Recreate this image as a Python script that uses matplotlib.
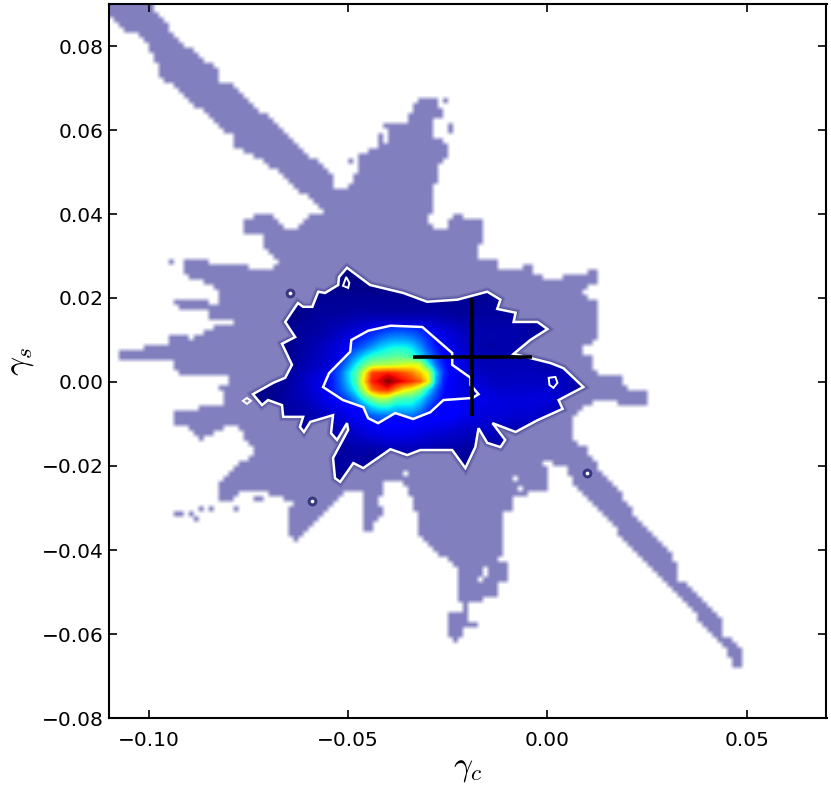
import matplotlib
matplotlib.use('Agg')
import matplotlib.pyplot as plt
import numpy as np
from matplotlib.colors import LinearSegmentedColormap
from matplotlib.patches import Polygon
from matplotlib.path import Path

envelope = [(-101, 92), (-92.7, 81.5), (-82.9, 74.4), (-82.9, 72.0), (-79.6, 71.3), (-53.8, 48.9), (-53.8, 45.8),
            (-50.3, 45.8), (-47.0, 51.3), (-47.0, 54.1), (-42.7, 56.0), (-41.2, 61.3), (-35.7, 61.8), (-33.9, 65.6),
            (-31.4, 68.0), (-28.6, 68.0), (-26.9, 65.6), (-25.1, 64.1), (-28.6, 62.5), (-28.9, 58.4), (-25.1, 57.0),
            (-25.1, 52.9), (-26.9, 52.2), (-26.9, 48.2), (-28.9, 47.4), (-28.9, 40.3), (-30.7, 38.6), (-28.1, 35.8),
            (-25.1, 35.8), (-25.1, 38.6), (-23.1, 40.5), (-21.4, 39.1), (-16.1, 39.1), (-16.1, 33.1), (-18.1, 31.5),
            (-18.1, 29.6), (-13.1, 29.1), (-12.3, 27.4), (-6.8, 27.2), (-6.3, 28.6), (-5.0, 28.4), (-3.5, 26.2),
            (0.3, 23.8), (3.8, 23.8), (4.0, 25.5), (10.3, 26.0), (11.6, 27.4), (12.8, 26.7), (12.8, 24.3), (9.0, 21.5),
            (9.0, 20.3), (12.8, 20.0), (12.8, 10.5), (9.0, 8.1), (9.0, 6.9), (10.8, 6.0), (10.8, 3.6), (13.3, 1.7),
            (18.3, 1.2), (20.4, -1.9), (25.4, -2.4), (25.4, -5.0), (18.3, -5.5), (16.6, -3.6), (15.3, -5.0),
            (13.8, -3.8), (8.3, -6.7), (5.8, -9.1), (5.8, -13.1), (9.5, -15.7), (10.8, -17.9), (17.6, -25.8),
            (21.6, -31.2), (32.7, -43.2), (32.7, -47.9), (35.9, -48.4), (43.5, -56.7), (43.5, -59.8), (49.0, -63.9),
            (49.0, -68.2), (47.2, -68.2), (45.2, -65.6), (45.2, -63.4), (38.4, -57.9), (37.9, -56.0), (30.2, -47.9),
            (18.3, -37.0), (17.6, -34.6), (5.8, -23.4), (5.0, -20.5), (1.5, -20.3), (1.3, -19.1), (-1.8, -19.3),
            (0.3, -21.5), (0.3, -25.8), (-5.0, -25.8), (-5.5, -27.4), (-8.5, -27.4), (-8.8, -30.5), (-11.1, -31.2),
            (-11.1, -41.2), (-12.6, -41.7), (-10.6, -43.2), (-10.6, -47.7), (-12.3, -47.9), (-12.6, -51.3),
            (-16.3, -51.5), (-17.3, -53.2), (-19.3, -51.5), (-19.8, -56.7), (-18.1, -57.2), (-18.1, -57.9),
            (-21.4, -58.7), (-21.9, -61.5), (-23.6, -61.5), (-25.1, -59.1), (-25.1, -55.1), (-21.1, -54.4),
            (-21.1, -52.7), (-23.1, -52.7), (-23.1, -43.6), (-25.1, -41.7), (-27.6, -41.2), (-30.7, -38.4),
            (-32.4, -35.3), (-33.2, -30.5), (-34.9, -25.8), (-38.7, -22.7), (-41.2, -24.1), (-42.0, -28.1),
            (-43.2, -28.6), (-41.5, -30.0), (-41.5, -32.4), (-43.2, -32.9), (-43.7, -36.0), (-46.5, -36.0),
            (-46.5, -25.8), (-50.0, -25.8), (-64.1, -39.3), (-65.1, -31.0), (-61.6, -26.2), (-64.1, -28.9),
            (-66.6, -28.9), (-67.1, -26.2), (-68.8, -27.4), (-70.1, -26.2), (-77.1, -26.2), (-77.6, -27.4),
            (-82.2, -28.9), (-82.9, -24.1), (-81.4, -22.7), (-77.1, -19.3), (-74.1, -17.9), (-73.9, -16.2),
            (-77.6, -10.7), (-80.4, -10.3), (-87.7, -13.8), (-90.2, -10.7), (-94.0, -9.8), (-94.0, -7.4), (-88.4, -7.2),
            (-87.9, -5.5), (-81.4, -5.5), (-81.4, -1.9), (-82.9, -1.2), (-79.6, 0.0), (-79.6, 1.2), (-93.0, 1.7),
            (-93.5, 4.8), (-101.5, 5.2), (-102.3, 6.4), (-103.5, 5.2), (-108.0, 5.2), (-108.0, 8.1), (-95.5, 8.3),
            (-95.2, 11.7), (-91.7, 11.7), (-90.2, 10.5), (-87.9, 10.7), (-82.9, 13.6), (-79.1, 13.6), (-79.1, 15.3),
            (-84.7, 15.3), (-85.2, 16.7), (-91.7, 17.2), (-93.5, 18.8), (-93.5, 20.0), (-82.9, 18.8), (-82.9, 21.2),
            (-85.2, 23.6), (-87.9, 24.3), (-91.7, 26.0), (-91.7, 28.6), (-84.7, 28.6), (-84.2, 27.9), (-72.1, 27.2),
            (-71.4, 25.5), (-70.4, 27.2), (-66.6, 27.9), (-70.4, 31.5), (-72.1, 35.5), (-75.9, 35.5), (-75.9, 38.1),
            (-72.9, 40.5), (-68.8, 39.3), (-65.3, 35.8), (-63.3, 35.8), (-60.3, 39.3), (-55.8, 40.3), (-57.8, 42.7),
            (-62.8, 45.8), (-67.8, 50.5), (-78.9, 56.5), (-79.1, 58.4), (-84.7, 63.2), (-89.7, 66.5), (-97.2, 73.2),
            (-99.0, 78.4), (-102.8, 82.7), (-105.5, 83.5), (-109.8, 87.0), (-112, 85), (-112, 92)]

env_islands_x = [-94.7, -94.0, -93.0, -92.3, -89.0, -88.5, -87.5, -86.3, -85.0, -83.8, -78.6, -77.8, -73.1, -72.3,
                 -23.9, -23.9, -26.1, -25.4, -49.7, -49.0]
env_islands_y = [28.1, 28.1, -31.7, -31.7, -31.0, -32.2, -30.0, -30.0, -30.0, -30.0, -30.0, -30.0, -28.1, -28.1,
                 61.3, 60.1, 67.5, 67.5, 52.0, 52.0]
env_holes_x = [-40.7, -40.7, -40.7, -35.2, -8.0, -6.3, -15.1, -16.1, -17.3]
env_holes_y = [59.5, 58.3, 57.1, -21.5, -22.9, -25.0, -44.3, -46.0, -47.2]

outer_contour = [(-50.3, 27.2), (-44.5, 23.1), (-36.2, 21.2), (-30.2, 19.1), (-22.6, 19.6), (-15.1, 21.5), (-11.8, 19.6),
                 (-12.6, 17.4), (-8.0, 16.5), (-8.5, 14.3), (-2.5, 14.3), (0, 12.6), (-4.3, 10.0), (-8.5, 6.7), (0.8, 4.5),
                 (4.0, 3.3), (9.0, -1.2), (2.8, -4.3), (3.8, -6.4), (-2.5, -9.1), (-8.0, -11.9), (-13.8, -9.8),
                 (-10.6, -13.8), (-11.8, -15.5), (-15.1, -14.5), (-17.3, -11.0), (-18.1, -15.5), (-20.6, -20.5),
                 (-23.9, -16.2), (-31.9, -16.2), (-35.2, -17.4), (-39.4, -16.0), (-46.2, -20.5), (-48.7, -19.3),
                 (-52.0, -23.8), (-53.3, -22.9), (-53.8, -18.1), (-50.0, -11.4), (-50.3, -9.8), (-52.8, -13.8),
                 (-54.3, -12.2), (-53.8, -7.9), (-59.5, -9.5), (-61.1, -11.9), (-62.1, -10.7), (-61.3, -8.3),
                 (-66.3, -8.3), (-66.6, -5.5), (-70.1, -4.3), (-71.6, -5.5), (-73.9, -2.9), (-68.8, -0.2), (-65.8, 1.0),
                 (-64.1, 4.1), (-66.6, 9.1), (-63.3, 10.7), (-65.8, 14.3), (-62.6, 18.8), (-61.3, 17.9), (-59.0, 17.9),
                 (-57.5, 21.5), (-55.8, 21.2), (-52.5, 23.1), (-52.3, 25.0)]

inner_contour = [(-56.3, -1.2), (-54.8, 2.1), (-49.5, 7.2), (-49.2, 10.0), (-45.0, 12.2), (-39.4, 13.4), (-31.4, 13.1),
                 (-23.9, 6.9), (-23.9, 4.1), (-19.3, 1.0), (-19.3, -0.7), (-17.3, -2.9), (-18.8, -3.8), (-26.1, -4.3),
                 (-29.4, -7.2), (-33.7, -8.8), (-38.2, -7.4), (-42.5, -9.8), (-45.0, -8.6), (-46.2, -6.0), (-51.3, -4.3)]

small_loops = [[(-50.5, 25.0), (-49.7, 23.6), (-50.0, 22.4), (-51.3, 22.9)],
               [(0.3, 1.0), (2.0, 1.2), (2.5, -0.2), (1.5, -1.4), (0.5, -0.7)],
               [(-76.4, -4.5), (-75.4, -3.8), (-74.4, -4.5), (-75.4, -5.2)]]

spots_x = [-64.6, -59.0, 10.0]
spots_y = [21.2, -28.4, -21.7]

# density on a 4e-3 grid, gamma_c -80..12, gamma_s 28..-28
density = np.array([
    [0, 0, 0, 0, 0, 0, 0, 0, 0, 0, 0, 0, 0, 0, 0, 0, 0, 0, 0, 0, 0, 0, 0, 0],
    [0, 0, 0, 0, 0, 1, 1, 1, 1, 1, 1, 1, 1, 1, 1, 1, 1, 1, 0, 0, 0, 0, 0, 0],
    [0, 0, 0, 0, 1, 2, 2, 2, 2, 2, 2, 2, 2, 2, 2, 2, 2, 2, 1, 1, 0, 0, 0, 0],
    [0, 0, 0, 0, 1, 2, 3, 3, 4, 4, 4, 4, 4, 4, 3, 3, 3, 3, 3, 3, 2, 0, 0, 0],
    [0, 0, 0, 0, 2, 3, 4, 6, 8, 10, 11, 11, 11, 9, 7, 5, 4, 4, 4, 3, 2, 0, 0, 0],
    [0, 0, 0, 0, 2, 4, 6, 9, 12, 12, 12, 12, 12, 12, 9, 6, 4, 4, 4, 3, 2, 1, 0, 0],
    [0, 0, 0, 1, 3, 5, 7, 10, 12, 12, 12, 12, 12, 12, 12, 7, 5, 5, 5, 5, 4, 4, 3, 0],
    [0, 0, 1, 2, 4, 7, 10, 12, 12, 12, 12, 12, 12, 12, 12, 9, 7, 6, 6, 6, 6, 6, 3, 0],
    [0, 1, 1, 2, 4, 6, 9, 12, 12, 12, 12, 12, 12, 12, 12, 10, 9, 8, 8, 8, 8, 5, 2, 0],
    [0, 0, 1, 2, 3, 4, 6, 8, 11, 12, 12, 12, 12, 12, 11, 9, 8, 8, 7, 7, 5, 3, 0, 0],
    [0, 0, 0, 1, 2, 3, 4, 5, 7, 9, 10, 10, 9, 8, 7, 6, 6, 5, 4, 3, 2, 0, 0, 0],
    [0, 0, 0, 0, 0, 2, 2, 3, 4, 4, 5, 5, 5, 4, 4, 3, 3, 3, 2, 2, 0, 0, 0, 0],
    [0, 0, 0, 0, 0, 0, 2, 3, 3, 2, 2, 2, 2, 2, 2, 2, 2, 1, 1, 0, 0, 0, 0, 0],
    [0, 0, 0, 0, 0, 0, 0, 0, 0, 0, 0, 0, 0, 0, 0, 0, 0, 0, 0, 0, 0, 0, 0, 0],
    [0, 0, 0, 0, 0, 0, 0, 0, 0, 0, 0, 0, 0, 0, 0, 0, 0, 0, 0, 0, 0, 0, 0, 0],
]) / 100.0

# finer density inside the inner contour, 2e-3 grid, gamma_c -58..-16, gamma_s 14..-10
density_core = np.array([
    [8, 8, 8, 9, 10, 10, 11, 12, 13, 13, 13, 13, 13, 13, 12, 11, 10, 9, 8, 8, 7, 7],
    [8, 8, 9, 10, 11, 12, 13, 15, 17, 19, 20, 20, 19, 17, 14, 12, 10, 9, 8, 8, 7, 7],
    [9, 9, 10, 11, 13, 15, 17, 20, 24, 27, 28, 28, 26, 22, 17, 13, 11, 9, 8, 8, 7, 7],
    [9, 10, 11, 13, 16, 19, 23, 28, 33, 36, 38, 38, 35, 28, 20, 15, 11, 9, 8, 8, 7, 7],
    [10, 11, 13, 16, 20, 27, 34, 40, 42, 44, 46, 45, 42, 34, 26, 18, 13, 10, 8, 8, 7, 7],
    [10, 12, 14, 18, 26, 36, 46, 54, 56, 56, 58, 60, 62, 60, 40, 23, 15, 11, 9, 8, 8, 7],
    [11, 13, 16, 22, 33, 44, 62, 84, 86, 88, 86, 82, 78, 70, 62, 32, 17, 11, 9, 8, 8, 8],
    [11, 13, 15, 22, 32, 44, 68, 88, 92, 100, 94, 90, 86, 80, 66, 30, 15, 11, 9, 8, 8, 8],
    [11, 12, 15, 20, 28, 38, 58, 78, 84, 86, 76, 66, 62, 52, 36, 22, 14, 10, 9, 8, 8, 8],
    [10, 11, 13, 16, 20, 28, 40, 50, 58, 56, 46, 44, 42, 36, 26, 18, 12, 10, 9, 8, 8, 8],
    [9, 10, 11, 13, 16, 20, 26, 34, 38, 38, 34, 34, 34, 28, 20, 14, 11, 9, 8, 8, 8, 8],
    [8, 9, 10, 11, 12, 14, 18, 22, 24, 24, 24, 24, 24, 20, 15, 12, 10, 9, 8, 8, 7, 7],
    [8, 8, 9, 10, 10, 12, 14, 15, 16, 16, 16, 17, 17, 14, 12, 10, 9, 8, 8, 7, 7, 7],
]) / 100.0

cross_h_x = [-33.7, -4.0]
cross_h_y = [6.0, 6.0]
cross_v_x = [-19.0, -19.0]
cross_v_y = [20.0, -8.0]

xticks = [-0.10, -0.05, 0.00, 0.05]
yticks = [-0.08, -0.06, -0.04, -0.02, 0.00, 0.02, 0.04, 0.06, 0.08]


def scaled(points):
    return np.array(points) * 1e-3


plt.rcParams['mathtext.fontset'] = 'cm'
W, H = 831, 788
fig = plt.figure(figsize=(W / 100, H / 100), dpi=100)
ax = fig.add_axes([109 / W, 1 - 718 / H, 717.5 / W, 714 / H])

# the pale region is a coarse binned mask, so it gets the blocky edge
dx, dy = 1.25, 1.2
nx, ny = 144, 142
cx = -110 + dx * (np.arange(nx) + 0.5)
cy = -80 + dy * (np.arange(ny) + 0.5)
gx, gy = np.meshgrid(cx, cy)
mask = Path(envelope).contains_points(np.c_[gx.ravel(), gy.ravel()]).reshape(gx.shape).astype(float)
for px, py in zip(env_islands_x, env_islands_y):
    mask[int((py + 80) / dy), int((px + 110) / dx)] = 1
for px, py in zip(env_holes_x, env_holes_y):
    mask[int((py + 80) / dy), int((px + 110) / dx)] = 0

env_cmap = LinearSegmentedColormap.from_list('env', ['white', '#817fbe'])
ax.imshow(mask, cmap=env_cmap, vmin=0, vmax=1, interpolation='bilinear', origin='lower', aspect='auto',
          extent=[-0.110, -0.110 + nx * dx * 1e-3, -0.080, -0.080 + ny * dy * 1e-3], zorder=1)

# soft dark edge round the core
core = Polygon(scaled(outer_contour), closed=True, fc='none', ec='none', transform=ax.transData)
ax.add_patch(core)
ax.add_patch(Polygon(scaled(outer_contour), closed=True, fc='none', ec='#20207a', lw=6, alpha=0.18, zorder=2))
ax.add_patch(Polygon(scaled(outer_contour), closed=True, fc='none', ec='#20207a', lw=3.5, alpha=0.35, zorder=2))

im = ax.imshow(density, cmap='jet', vmin=0, vmax=1, interpolation='catrom',
               extent=[-0.082, 0.014, -0.030, 0.030], origin='upper', aspect='auto', zorder=3)
im.set_clip_path(core)

inner = Polygon(scaled(inner_contour), closed=True, fc='none', ec='none', transform=ax.transData)
ax.add_patch(inner)
im2 = ax.imshow(density_core, cmap='jet', vmin=0, vmax=1, interpolation='bilinear',
                extent=[-0.059, -0.015, -0.011, 0.015], origin='upper', aspect='auto', zorder=3.1)
im2.set_clip_path(inner)

ax.add_patch(Polygon(scaled(outer_contour), closed=True, fc='none', ec='white', lw=1.8, zorder=4))
ax.add_patch(Polygon(scaled(inner_contour), closed=True, fc='none', ec='white', lw=1.8, zorder=4))
for loop in small_loops:
    ax.add_patch(Polygon(scaled(loop), closed=True, fc='none', ec='white', lw=1.4, zorder=4))

ax.scatter(np.array(spots_x) * 1e-3, np.array(spots_y) * 1e-3, s=50, color='#20206e', alpha=0.75, linewidths=0, zorder=3)
ax.scatter(np.array(spots_x) * 1e-3, np.array(spots_y) * 1e-3, s=7, color='white', linewidths=0, zorder=4)

ax.plot(np.array(cross_h_x) * 1e-3, np.array(cross_h_y) * 1e-3, color='black', lw=2.6, solid_capstyle='butt', zorder=5)
ax.plot(np.array(cross_v_x) * 1e-3, np.array(cross_v_y) * 1e-3, color='black', lw=2.6, solid_capstyle='butt', zorder=5)

ax.set_xlim(-0.11, 0.07)
ax.set_ylim(-0.08, 0.09)
ax.set_xticks(xticks)
ax.set_yticks(yticks)
ax.set_xticklabels(['\u22120.10', '\u22120.05', '0.00', '0.05'])
ax.set_yticklabels(['\u22120.08', '\u22120.06', '\u22120.04', '\u22120.02', '0.00', '0.02', '0.04', '0.06', '0.08'])
ax.tick_params(direction='in', top=True, right=True, length=6, width=1.2, labelsize=14.5)
ax.tick_params(axis='x', pad=9)
ax.tick_params(axis='y', pad=4)
for s in ax.spines.values():
    s.set_linewidth(1.5)
ax.set_xlabel(r'$\gamma_c$', fontsize=24, labelpad=1)
ax.set_ylabel(r'$\gamma_s$', fontsize=24, labelpad=4)

fig.savefig('out.png', dpi=100)
